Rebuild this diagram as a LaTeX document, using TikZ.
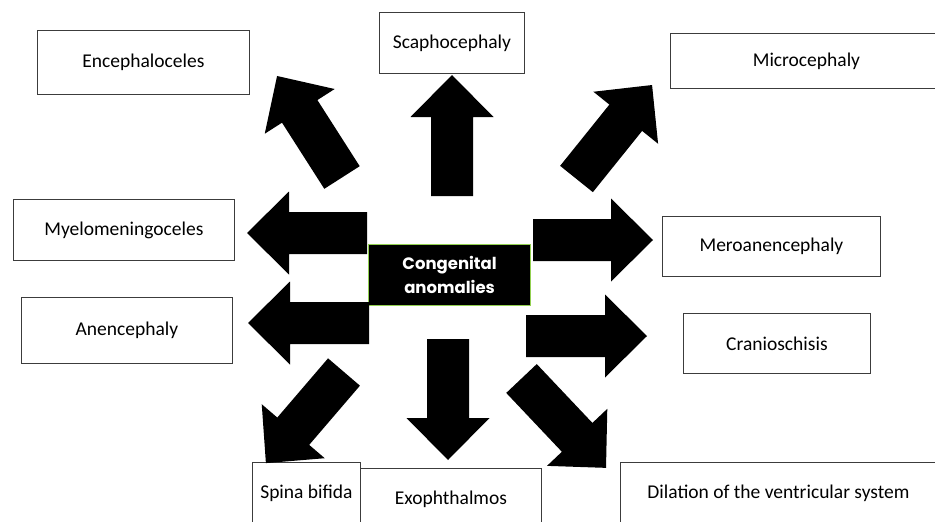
\documentclass[tikz,border=0pt]{standalone}
\usepackage{fontspec}
\setmainfont{Carlito}
\newfontfamily\headfont{Poppins}
\definecolor{boxline}{RGB}{60,60,60}
\definecolor{hubline}{RGB}{146,208,80}
\tikzset{
  box/.style={draw=boxline, line width=0.9pt, fill=white, inner sep=0pt, font=\fontsize{19.5}{23}\selectfont, anchor=north west},
  hub/.style={draw=hubline, line width=1.2pt, fill=black, text=white, inner sep=0pt, align=center,
    font=\headfont\bfseries\fontsize{16.5}{24}\selectfont, anchor=north west},
  arrowfill/.style={fill=black}
}
\newcommand{\barrow}[3]{%
  \begin{scope}[shift={(#1)}, rotate=#2]
    \fill[arrowfill] (0,-21) -- ({#3-42},-21) -- ({#3-42},-41.5) -- (#3,0) -- ({#3-42},41.5) -- ({#3-42},21) -- (0,21) -- cycle;
  \end{scope}}
\begin{document}
\begin{tikzpicture}[x=1pt,y=-1pt]
\useasboundingbox (0,0) rectangle (935,522);
% boxes
\node[box, minimum width=212pt, minimum height=64pt] (enc) at (37,30) {Encephaloceles};
\node[box, minimum width=145pt, minimum height=61pt] (sca) at (379,12) {Scaphocephaly};
\node[box, minimum width=272pt, minimum height=55pt] (mic) at (670,33) {Microcephaly};
\node[box, minimum width=221pt, minimum height=61pt] (mye) at (13,199) {Myelomeningoceles};
\node[box, minimum width=218pt, minimum height=60pt] (mer) at (662,216) {Meroanencephaly};
\node[box, minimum width=211pt, minimum height=66pt] (ane) at (21,297) {Anencephaly};
\node[box, minimum width=187pt, minimum height=60pt] (cra) at (683,313) {Cranioschisis};
\node[box, minimum width=108pt, minimum height=62pt] (spi) at (252,462) {Spina bifida};
\node[box, minimum width=181pt, minimum height=62pt] (exo) at (360,468) {Exophthalmos};
\node[box, minimum width=316pt, minimum height=62pt] (dil) at (620,462) {Dilation of the ventricular system};
% hub
\node[hub, minimum width=162pt, minimum height=61pt] (hub) at (368,244) {Congenital\\anomalies};
% arrows
\coordinate (tUL) at (342,177.5);
\coordinate (tU) at (452,196);
\coordinate (tUR) at (576.5,179);
\coordinate (tL1) at (367,233);
\coordinate (tL2) at (369,323);
\coordinate (tR1) at (533,240);
\coordinate (tR2) at (526,336);
\coordinate (tD) at (448,339);
\coordinate (tDL) at (344,372);
\coordinate (tDR) at (521.5,378.5);
\barrow{tUL}{122.6}{120.5}
\barrow{tU}{90}{121}
\barrow{tUR}{51.2}{120.6}
\barrow{tL1}{180}{120}
\barrow{tL2}{180}{121}
\barrow{tR1}{0}{120}
\barrow{tR2}{0}{121}
\barrow{tD}{-90}{121}
\barrow{tDL}{229.4}{120}
\barrow{tDR}{-46.6}{123}
\end{tikzpicture}
\end{document}
